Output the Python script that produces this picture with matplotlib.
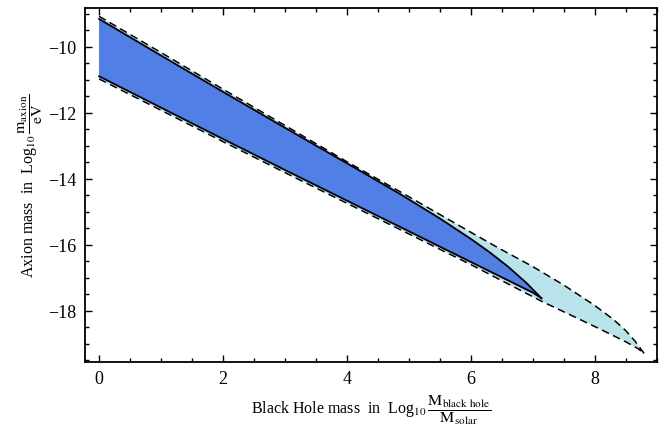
import numpy as np
import matplotlib.pyplot as plt

plt.rcParams['font.family'] = ['Liberation Serif', 'DejaVu Serif']
plt.rcParams['mathtext.fontset'] = 'stix'

# dashed (outer) band
outer_top_x = [0.0, 1.0, 2.0, 3.0, 4.0, 4.85, 5.5, 6.0, 6.47, 7.0, 7.5, 8.0, 8.3, 8.5, 8.65, 8.80]
outer_top_y = [-9.07, -10.17, -11.28, -12.38, -13.48, -14.38, -15.08, -15.62, -16.12, -16.66, -17.22, -17.84, -18.26, -18.60, -18.92, -19.30]
outer_bot_x = [0.0, 1.0, 2.0, 3.0, 4.0, 5.0, 6.0, 7.14, 7.6, 8.08, 8.5, 8.7, 8.80]
outer_bot_y = [-10.97, -11.92, -12.87, -13.81, -14.74, -15.67, -16.60, -17.71, -18.12, -18.55, -18.94, -19.15, -19.30]

# solid (inner) band
inner_top_x = [0.0, 1.0, 2.0, 3.0, 3.62, 4.05, 4.85, 5.5, 6.0, 6.3, 6.6, 6.9, 7.14]
inner_top_y = [-9.15, -10.26, -11.36, -12.45, -13.12, -13.58, -14.45, -15.20, -15.82, -16.22, -16.66, -17.16, -17.62]
inner_bot_x = [0.0, 1.0, 2.0, 3.0, 4.0, 5.0, 6.0, 7.0, 7.14]
inner_bot_y = [-10.89, -11.84, -12.79, -13.73, -14.66, -15.59, -16.52, -17.45, -17.62]

light = '#B9E3EA'
blue = '#517FE6'

fig = plt.figure(figsize=(6.68, 4.27), dpi=100)
ax = fig.add_axes([0.127, 0.151, 0.856, 0.827])

# outer region polygon
ox = outer_top_x + outer_bot_x[::-1]
oy = outer_top_y + outer_bot_y[::-1]
ax.fill(ox, oy, color=light, lw=0, zorder=1)
ax.plot(outer_top_x, outer_top_y, color='k', lw=1.1, ls=(0, (5, 3)), zorder=3)
ax.plot(outer_bot_x, outer_bot_y, color='k', lw=1.1, ls=(0, (5, 3)), zorder=3)

# inner region polygon
ix = inner_top_x + inner_bot_x[::-1]
iy = inner_top_y + inner_bot_y[::-1]
ax.fill(ix, iy, color=blue, lw=0, zorder=2)
ax.plot(inner_top_x, inner_top_y, color='k', lw=1.3, zorder=4)
ax.plot(inner_bot_x, inner_bot_y, color='k', lw=1.3, zorder=4)

ax.set_xlim(-0.23, 9.0)
ax.set_ylim(-19.54, -8.83)
ax.set_xticks([0, 2, 4, 6, 8])
ax.set_xticks(np.arange(0, 9.01, 0.5), minor=True)
ax.set_yticks([-18, -16, -14, -12, -10])
ax.set_yticks(np.arange(-19.5, -8.9, 0.5), minor=True)
ax.tick_params(which='both', direction='in', top=True, right=True, labelsize=13, width=1.0)
ax.tick_params(which='major', length=5, pad=6)
ax.tick_params(which='minor', length=3)
for s in ax.spines.values():
    s.set_linewidth(1.3)

ax.set_xlabel(r'Black Hole mass  in  Log$_{10}\,\dfrac{\mathrm{M}_{\mathrm{black\ hole}}}{\mathrm{M}_{\mathrm{solar}}}$',
              fontsize=11.5, labelpad=4)
ax.set_ylabel(r'Axion mass  in  Log$_{10}\,\dfrac{\mathrm{m}_{\mathrm{axion}}}{\mathrm{eV}}$',
              fontsize=11.5, labelpad=2)

fig.savefig('out.png', dpi=100)
